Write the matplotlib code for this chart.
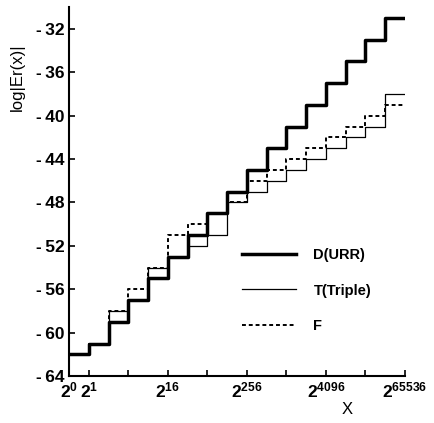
import numpy as np
import matplotlib.pyplot as plt

plt.rcParams['axes.unicode_minus'] = False
plt.rcParams['mathtext.default'] = 'regular'
plt.rcParams['font.family'] = ['Liberation Sans', 'DejaVu Sans']
plt.rcParams['font.weight'] = 'bold'
plt.rcParams['mathtext.fontset'] = 'custom'
plt.rcParams['mathtext.rm'] = 'Liberation Sans:bold'

# x axis is log2(log2 x); 2^0 is drawn one step left of 2^1
steps_x = list(range(-1, 17))

d_urr = [-62, -61, -59, -57, -55, -53, -51, -49, -47, -45, -43, -41, -39, -37, -35, -33, -31]
t_triple = [-62, -61, -58, -57, -54, -53, -52, -51, -48, -47, -46, -45, -44, -43, -42, -41, -38]
f_vals = [-62, -61, -58, -56, -54, -51, -50, -49, -48, -46, -45, -44, -43, -42, -41, -40, -39]

xtick_pos = [-1, 0, 2, 4, 6, 8, 10, 12, 14, 16]
xtick_lbl = ['$2^0$', '$2^1$', '', '$2^{16}$', '', '$2^{256}$', '', '$2^{4096}$', '', '$2^{65536}$']
ytick_pos = list(range(-64, -31, 4))

fig = plt.figure(figsize=(4.34, 4.23), dpi=100)
ax = fig.add_axes([0.159, 0.111, 0.774, 0.872])

ax.step(steps_x, t_triple + [t_triple[-1]], where='post', color='black', lw=0.9,
        label='T(Triple)')
ax.step(steps_x, f_vals + [f_vals[-1]], where='post', color='black', lw=1.4,
        linestyle=(0, (2, 1.5)), label='F')
ax.step(steps_x, d_urr + [d_urr[-1]], where='post', color='black', lw=2.5,
        label='D(URR)')

ax.set_xlim(-1, 16)
ax.set_ylim(-64, -30)

ax.set_xticks(xtick_pos)
ax.set_xticklabels(xtick_lbl, fontsize=12.5)
ax.set_yticks(ytick_pos)
ax.set_yticklabels(['-\u2009' + str(-v) for v in ytick_pos], fontsize=12.5)

ax.spines['top'].set_visible(False)
ax.spines['right'].set_visible(False)
for s in ('left', 'bottom'):
    ax.spines[s].set_linewidth(1.5)
ax.tick_params(direction='in', length=4, width=1.2, pad=3)

ax.set_ylabel('log|Er(x)|', fontsize=12, fontweight='normal')
ax.yaxis.set_label_coords(-0.13, 0.81)
ax.set_xlabel('X', fontsize=12)
ax.xaxis.set_label_coords(0.827, -0.07)

h, l = ax.get_legend_handles_labels()
order = [2, 0, 1]
ax.legend([h[i] for i in order], [l[i] for i in order], loc='upper left',
          bbox_to_anchor=(0.515, 0.348), frameon=False, fontsize=10.5,
          handlelength=3.7, handletextpad=1.2, labelspacing=1.5,
          borderpad=0, borderaxespad=0)

fig.savefig('out.png', dpi=100)
